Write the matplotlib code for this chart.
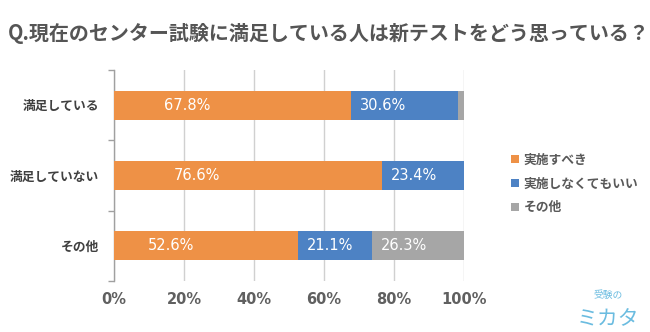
import matplotlib
matplotlib.use('Agg')
import matplotlib.pyplot as plt
import numpy as np

plt.rcParams['font.family'] = ['Noto Sans CJK JP', 'DejaVu Sans']

categories = ['満足している', '満足していない', 'その他']
series_names = ['実施すべき', '実施しなくてもいい', 'その他']
should = [67.8, 76.6, 52.6]
not_needed = [30.6, 23.4, 21.1]
other = [1.6, 0.0, 26.3]
xticks = [0, 20, 40, 60, 80, 100]
xtick_labels = ['0%', '20%', '40%', '60%', '80%', '100%']

colors = ['#EE9146', '#4D82C4', '#A6A6A6']
title = 'Q.現在のセンター試験に満足している人は新テストをどう思っている？'

fig = plt.figure(figsize=(6.5, 3.32), dpi=100)
ax = fig.add_axes([0.1754, 0.1536, 0.5385, 0.6355])

y = np.arange(len(categories))
left = np.zeros(len(categories))
handles = []
for k, vals in enumerate([should, not_needed, other]):
    vals = np.array(vals)
    b = ax.barh(y, vals, left=left, height=0.41, color=colors[k], zorder=3)
    handles.append(b)
    for i, v in enumerate(vals):
        if v < 5:
            continue
        txt = f'{v:.1f}%'
        if k == 0:
            ax.text(left[i] + v * 0.31, y[i], txt, ha='center', va='center',
                    color='white', fontsize=10.5, family='DejaVu Sans', zorder=4)
        else:
            ax.text(left[i] + 2.6, y[i], txt, ha='left', va='center',
                    color='white', fontsize=10.5, family='DejaVu Sans', zorder=4)
    left = left + vals

ax.set_xlim(0, 100)
ax.set_ylim(2.5, -0.5)
ax.set_xticks(xticks)
ax.set_xticklabels(xtick_labels, fontsize=10.5, fontweight='bold', color='#606060',
                   family='DejaVu Sans')
ax.tick_params(axis='x', length=0, pad=8)
ax.set_yticks(y)
ax.set_yticklabels(categories, fontsize=9.2, fontweight='bold', color='#404040')
ax.tick_params(axis='y', which='major', length=0, pad=11)
ax.set_yticks([-0.5, 0.5, 1.5, 2.5], minor=True)
ax.tick_params(axis='y', which='minor', length=4, color='#A0A0A0', width=1)
ax.grid(axis='x', color='#D0D0D0', linewidth=1, zorder=0)
for s in ['top', 'right', 'bottom']:
    ax.spines[s].set_visible(False)
ax.spines['left'].set_color('#A0A0A0')
ax.spines['left'].set_linewidth(1)

fig.text(0.012, 0.90, title, fontsize=14.4, fontweight='bold', color='#555555',
         ha='left', va='center')

leg = fig.legend(handles, series_names, loc='upper left', bbox_to_anchor=(0.768, 0.572),
                 frameon=False, handlelength=0.65, handleheight=0.65, handletextpad=0.35,
                 labelspacing=0.85, prop={'size': 9.2, 'weight': 'bold'})
for t in leg.get_texts():
    t.set_color('#595959')

fig.text(0.935, 0.11, '受験の', fontsize=7, color='#6BBCE0', ha='center', va='center')
fig.text(0.935, 0.04, 'ミカタ', fontsize=15, color='#6BBCE0', ha='center', va='center')

fig.savefig('out.png', dpi=100)
